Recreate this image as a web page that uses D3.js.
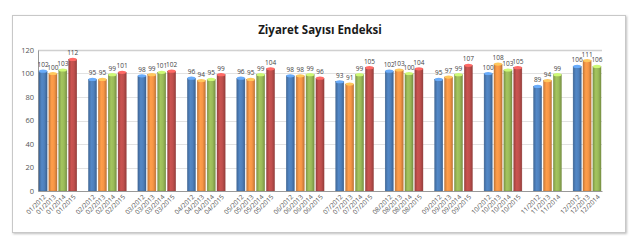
<!DOCTYPE html>
<html>
<head>
<meta charset="utf-8">
<script src="https://cdn.jsdelivr.net/npm/d3@7"></script>
<style>
  body { margin: 0; background: #fff; }
  text { font-family: "Open Sans", "Liberation Sans", sans-serif; }
</style>
</head>
<body>
<div id="chart"></div>
<script>
const months = ["01", "02", "03", "04", "05", "06", "07", "08", "09", "10", "11", "12"];
const years = ["2012", "2013", "2014", "2015"];
const v2012 = [102, 95, 98, 96, 96, 98, 93, 102, 95, 100, 89, 106];
const v2013 = [100, 95, 99, 94, 95, 98, 91, 103, 97, 108, 94, 111];
const v2014 = [103, 99, 101, 95, 99, 99, 99, 100, 99, 103, 99, 106];
const v2015 = [112, 101, 102, 99, 104, 96, 105, 104, 107, 105, null, null];
const yTicks = [0, 20, 40, 60, 80, 100, 120];
const colors = ["#4f81bd", "#f79646", "#9bbb59", "#c0504d"];

const series = [v2012, v2013, v2014, v2015];

// one slot per bar, an empty slot between months
const slots = [];
months.forEach((m, mi) => {
    series.forEach((s, si) => {
        if (s[mi] != null) slots.push({ key: m + "/" + years[si], value: s[mi], si });
    });
    if (mi < months.length - 1) slots.push({ key: "gap" + mi, value: null });
});

const svgWidth = 640;
const svgHeight = 250;
const margin = { top: 50, right: 38, bottom: 59, left: 38 };
const width = svgWidth - margin.left - margin.right;
const height = svgHeight - margin.top - margin.bottom;

const svg = d3.select("#chart")
    .append("svg")
    .attr("width", svgWidth)
    .attr("height", svgHeight);

const defs = svg.append("defs");
colors.forEach((c, i) => {
    const g = defs.append("linearGradient").attr("id", "grad" + i)
        .attr("x1", "0").attr("x2", "1").attr("y1", "0").attr("y2", "0");
    g.append("stop").attr("offset", "0%").attr("stop-color", d3.color(c).darker(0.6));
    g.append("stop").attr("offset", "35%").attr("stop-color", d3.color(c).brighter(0.15));
    g.append("stop").attr("offset", "65%").attr("stop-color", c);
    g.append("stop").attr("offset", "100%").attr("stop-color", d3.color(c).darker(0.7));
});
const sh = defs.append("filter").attr("id", "shadow").attr("x", "-5%").attr("y", "-5%").attr("width", "110%").attr("height", "110%");
sh.append("feDropShadow").attr("dx", 1).attr("dy", 1).attr("stdDeviation", 1.2).attr("flood-color", "#000").attr("flood-opacity", 0.25);

// outer frame
svg.append("rect")
    .attr("x", 12.5).attr("y", 15.5)
    .attr("width", 613).attr("height", 217)
    .attr("fill", "#fff")
    .attr("stroke", "#c8c8c8")
    .attr("filter", "url(#shadow)");

svg.append("text")
    .attr("x", 320).attr("y", 34)
    .attr("text-anchor", "middle")
    .attr("font-size", 11.5)
    .attr("font-weight", "bold")
    .attr("fill", "#1a1a1a")
    .text("Ziyaret Sayısı Endeksi");

const g = svg.append("g")
    .attr("transform", `translate(${margin.left},${margin.top})`);

const xScale = d3.scaleBand()
    .domain(slots.map(d => d.key))
    .range([0, width])
    .paddingInner(0.18)
    .paddingOuter(0.1);

const yScale = d3.scaleLinear()
    .domain([0, 120])
    .range([height, 0]);

// gridlines
g.append("g")
    .selectAll("line")
    .data(yTicks)
    .join("line")
    .attr("x1", 0).attr("x2", width)
    .attr("y1", d => Math.round(yScale(d)) + 0.5)
    .attr("y2", d => Math.round(yScale(d)) + 0.5)
    .attr("stroke", d => d === 120 ? "#d0d0d0" : "#e2e2e2")
    .attr("stroke-width", d => d === 120 ? 1.5 : 1);

const yAxis = g.append("g")
    .call(d3.axisLeft(yScale).tickValues(yTicks).tickSize(0).tickPadding(4));
yAxis.select(".domain").attr("stroke", "#999");
yAxis.selectAll("text").attr("font-size", 7.5).attr("fill", "#555");

const bars = slots.filter(d => d.value != null);
const bw = xScale.bandwidth();

g.selectAll("rect.bar")
    .data(bars)
    .join("rect")
    .attr("class", "bar")
    .attr("x", d => xScale(d.key))
    .attr("y", d => yScale(d.value))
    .attr("width", bw)
    .attr("height", d => height - yScale(d.value))
    .attr("fill", d => `url(#grad${d.si})`)
    .attr("stroke", d => d3.color(colors[d.si]).darker(0.8))
    .attr("stroke-width", 0.4);

g.selectAll("ellipse.cap")
    .data(bars)
    .join("ellipse")
    .attr("class", "cap")
    .attr("cx", d => xScale(d.key) + bw / 2)
    .attr("cy", d => yScale(d.value))
    .attr("rx", bw / 2)
    .attr("ry", 1.6)
    .attr("fill", d => d3.color(colors[d.si]).brighter(0.8));

g.selectAll("text.val")
    .data(bars)
    .join("text")
    .attr("class", "val")
    .attr("x", d => xScale(d.key) + bw / 2)
    .attr("y", d => yScale(d.value) - 4)
    .attr("text-anchor", "middle")
    .attr("font-size", 6.5)
    .attr("fill", "#444")
    .text(d => d.value);

const xAxis = g.append("g")
    .attr("transform", `translate(0,${height})`)
    .call(d3.axisBottom(xScale).tickValues(bars.map(d => d.key)).tickSize(0).tickPadding(0));
xAxis.select(".domain").attr("stroke", "#999");
xAxis.selectAll("text")
    .attr("font-size", 6.5)
    .attr("fill", "#555")
    .attr("text-anchor", "end")
    .attr("dy", "0.3em")
    .attr("transform", "translate(2,5) rotate(-45)");
</script>
</body>
</html>
